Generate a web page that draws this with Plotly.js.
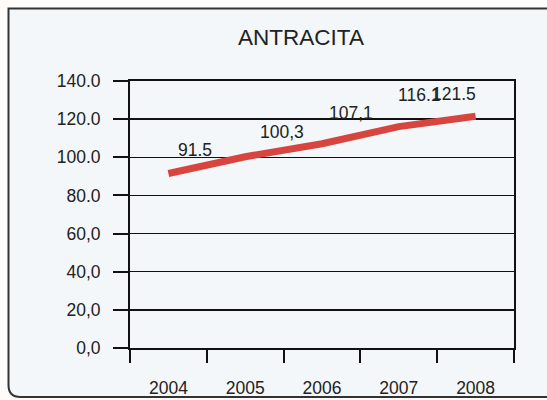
<!DOCTYPE html>
<html>
<head>
<meta charset="utf-8">
<script src="https://cdn.plot.ly/plotly-3.0.1.min.js"></script>
<style>html,body{margin:0;padding:0;background:#fff;}#chart{width:547px;height:400px;}</style>
</head>
<body>
<div id="chart"></div>
<script>
// ---- data ----
const years = ["2004", "2005", "2006", "2007", "2008"];
const values = [91.5, 100.3, 107.1, 116.1, 121.5];
const valueLabels = ["91.5", "100,3", "107,1", "116.1", "121.5"];
const yTickVals = [0, 20, 40, 60, 80, 100, 120, 140];
const yTickText = ["0,0", "20,0", "40,0", "60,0", "80.0", "100.0", "120.0", "140.0"];
const chartTitle = "ANTRACITA";

// ---- styling / layout helpers ----
const W = 547, H = 400;
const M = {l: 130, r: 33, t: 81, b: 52};
const pw = W - M.l - M.r, ph = H - M.t - M.b;
const px = x => (x - M.l) / pw;
const py = y => 1 - (y - M.t) / ph;

// label placement (style)
const labelStyle = [
  {xanchor: "center", xshift: 27, yshift: 24},
  {xanchor: "center", xshift: 37, yshift: 25},
  {xanchor: "center", xshift: 29, yshift: 31},
  {xanchor: "left", xshift: -2.5, yshift: 32},
  {xanchor: "right", xshift: 2.5, yshift: 22}
];

const font = "Liberation Sans, Arial, Helvetica, sans-serif";
const ink = "#222";

// category axis: annotation x given as category index
const annotations = years.map((yr, i) => ({
  x: i, y: values[i], xref: "x", yref: "y",
  text: valueLabels[i], showarrow: false,
  xanchor: labelStyle[i].xanchor, yanchor: "middle",
  xshift: labelStyle[i].xshift, yshift: labelStyle[i].yshift,
  font: {family: font, size: 17.5, color: ink}
}));

// panel with rounded bottom-left corner
const L = 8.5, T = 8.5, R = 600, B = 397, rad = 12;
const panelPath = `M ${px(L)} ${py(T)} L ${px(R)} ${py(T)} L ${px(R)} ${py(B)} L ${px(L + rad)} ${py(B)} Q ${px(L)} ${py(B)} ${px(L)} ${py(B - rad)} Z`;

const trace = {
  x: years, y: values, type: "scatter", mode: "lines",
  line: {color: "#d8453f", width: 7},
  hoverinfo: "skip"
};

const layout = {
  width: W, height: H,
  margin: M,
  paper_bgcolor: "#fdfcfa",
  plot_bgcolor: "rgba(0,0,0,0)",
  showlegend: false,
  title: {
    text: chartTitle, x: 301 / W, xanchor: "center", y: 1 - 37 / H, yanchor: "middle",
    font: {family: font, size: 22.5, color: ink}
  },
  xaxis: {
    type: "category", categoryorder: "array", categoryarray: years,
    range: [-0.5, years.length - 0.5], autorange: false,
    tickson: "boundaries", ticks: "outside", ticklen: 13, tickwidth: 2, tickcolor: "#111",
    showline: true, linecolor: "#111", linewidth: 2, mirror: true,
    showgrid: false, zeroline: false, tickangle: 0,
    tickfont: {family: font, size: 17.5, color: ink},
    ticklabelstandoff: 23
  },
  yaxis: {
    range: [0, 140], autorange: false, tickvals: yTickVals, ticktext: yTickText,
    ticks: "outside", ticklen: 15, tickwidth: 2, tickcolor: "#111",
    showline: true, linecolor: "#111", linewidth: 2, mirror: true,
    showgrid: true, gridcolor: "#111", gridwidth: 1.5, zeroline: false,
    tickfont: {family: font, size: 17.5, color: ink},
    ticklabelstandoff: 9
  },
  shapes: [{
    type: "path", xref: "paper", yref: "paper", layer: "below",
    path: panelPath, fillcolor: "#f4f7f9", line: {color: "#333", width: 2}
  }],
  annotations: annotations
};

Plotly.newPlot("chart", [trace], layout, {staticPlot: true, displayModeBar: false});
</script>
</body>
</html>
